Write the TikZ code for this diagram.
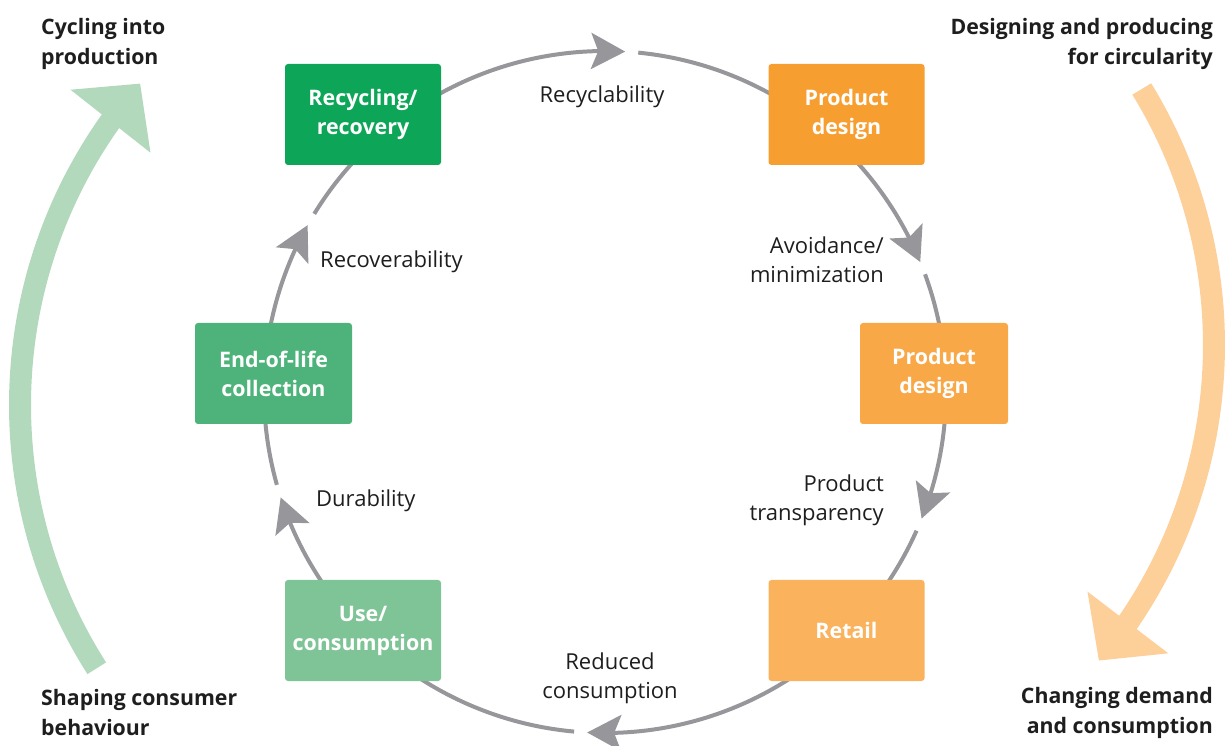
\documentclass[tikz,border=0pt]{standalone}
\usepackage{fontspec}
\setmainfont{Open Sans}
\usetikzlibrary{arrows.meta,bending}
\definecolor{cgray}{RGB}{150,150,155}
\definecolor{bandgreen}{RGB}{179,217,189}
\definecolor{bandorange}{RGB}{253,208,154}
\definecolor{gA}{RGB}{13,166,88}
\definecolor{gB}{RGB}{77,179,122}
\definecolor{gC}{RGB}{127,196,150}
\definecolor{oA}{RGB}{247,158,48}
\definecolor{oB}{RGB}{249,168,72}
\definecolor{oC}{RGB}{250,178,92}
\definecolor{txt}{RGB}{30,30,30}
\begin{document}
\begin{tikzpicture}[x=1pt,y=1pt,
  ring/.style={draw=cgray,line width=4pt},
  ringarrow/.style={ring,-{Stealth[length=34pt,width=36pt,inset=7pt,flex]}},
  band/.style={line width=22pt,-{Triangle[length=48pt,width=99pt,flex]}},
  box/.style={rounded corners=3pt,minimum width=156pt,minimum height=101pt,text=white,
    font=\fontsize{21.4}{29}\selectfont\bfseries,align=center,inner sep=0pt},
  lbl/.style={font=\fontsize{22}{29}\selectfont,text=txt,inner sep=0pt},
  head/.style={font=\fontsize{21.3}{30}\selectfont\bfseries,text=txt,inner sep=0pt}]
\useasboundingbox (0,0) rectangle (1227,745);
% big bands
\coordinate (G) at (510,340);
\coordinate (O) at (724,400);
\draw[band,draw=bandgreen] (G) ++(212.5:490) arc[start angle=212.5,end angle=139,radius=490];
\draw[band,draw=bandorange] (O) ++(31.5:490) arc[start angle=31.5,end angle=-40.1,radius=490];
% ring
\coordinate (C) at (605,353);
\draw[ringarrow] (C) ++(131:341) arc[start angle=131,end angle=86.6,radius=341];
\draw[ring] (C) ++(84.4:341) arc[start angle=84.4,end angle=48,radius=341];
\draw[ringarrow] (C) ++(49:341) arc[start angle=49,end angle=22.4,radius=341];
\draw[ring] (C) ++(20.2:341) arc[start angle=20.2,end angle=3,radius=341];
\draw[ringarrow] (C) ++(3:341) arc[start angle=3,end angle=-21.8,radius=341];
\draw[ring] (C) ++(-24:341) arc[start angle=-24,end angle=-45,radius=341];
\draw[ringarrow] (C) ++(-45:341) arc[start angle=-45,end angle=-93,radius=341];
\draw[ring] (C) ++(-95.2:341) arc[start angle=-95.2,end angle=-135,radius=341];
\draw[ringarrow] (C) ++(-135:341) arc[start angle=-135,end angle=-162,radius=341];
\draw[ring] (C) ++(-164.2:341) arc[start angle=-164.2,end angle=-183,radius=341];
\draw[ringarrow] (C) ++(177:341) arc[start angle=177,end angle=150.7,radius=341];
\draw[ring] (C) ++(148.5:341) arc[start angle=148.5,end angle=131,radius=341];
% boxes
\node[box,fill=gA] (rec) at (363,630.5) {Recycling/\\recovery};
\node[box,fill=oA] (pd1) at (846.5,630.5) {Product\\design};
\node[box,fill=oB,minimum width=148pt] (pd2) at (934,371.5) {Product\\design};
\node[box,fill=oC] (ret) at (846.5,114.5) {Retail};
\node[box,fill=gC] (use) at (363,114.5) {Use/\\consumption};
\node[box,fill=gB,minimum width=157pt] (eol) at (273.5,371.5) {End-of-life\\collection};
% labels
\node[lbl] (l1) at (602,648) {Recyclability};
\node[lbl,anchor=east,align=right] (l2) at (884,485.5) {Avoidance/\\minimization};
\node[lbl,anchor=east,align=right] (l3) at (884,245) {Product\\transparency};
\node[lbl,align=center] (l4) at (610,67) {Reduced\\consumption};
\node[lbl,anchor=west] (l5) at (316,244) {Durability};
\node[lbl,anchor=west] (l6) at (320,483) {Recoverability};
% headings
\node[head,anchor=west,align=left] (h1) at (41,701) {Cycling into\\production};
\node[head,anchor=east,align=right] (h2) at (1213,701) {Designing and producing\\for circularity};
\node[head,anchor=west,align=left] (h3) at (41,32) {Shaping consumer\\behaviour};
\node[head,anchor=east,align=right] (h4) at (1213,32) {Changing demand\\and consumption};
\end{tikzpicture}
\end{document}
